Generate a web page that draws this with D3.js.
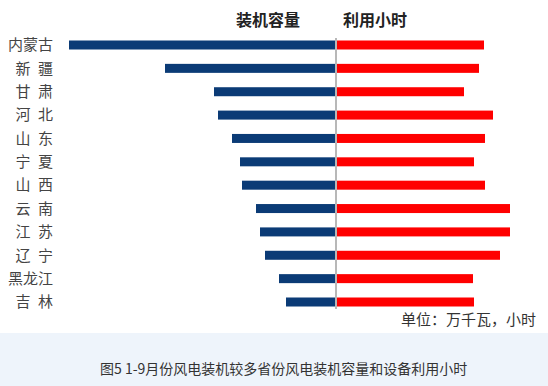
<!DOCTYPE html>
<html>
<head>
<meta charset="utf-8">
<script src="https://cdn.jsdelivr.net/npm/d3@7"></script>
<style>
  html, body { margin: 0; padding: 0; background: #fff; }
  svg { display: block; font-family: "Noto Sans CJK SC", sans-serif; }
</style>
</head>
<body>
<svg id="chart" width="548" height="386"></svg>
<script>
// provinces, top to bottom (two-char names padded with an en space)
const provinces = ["内蒙古", "新\u2002疆", "甘\u2002肃", "河\u2002北", "山\u2002东", "宁\u2002夏",
                   "山\u2002西", "云\u2002南", "江\u2002苏", "辽\u2002宁", "黑龙江", "吉\u2002林"];
// 装机容量, 万千瓦
const capacity = [2660, 1700, 1210, 1170, 1030, 950, 930, 790, 750, 700, 560, 490];
// 利用小时
const hours = [1470, 1420, 1270, 1560, 1480, 1370, 1480, 1730, 1730, 1630, 1360, 1370];

const headers = ["装机容量", "利用小时"];
const unitText = "单位：万千瓦，小时";
const caption = "图5 1-9月份风电装机较多省份风电装机容量和设备利用小时";

const svg = d3.select("#chart");
const W = 548, H = 386;
const mid = 336;

// caption band at the bottom
svg.append("rect")
    .attr("x", 0).attr("y", 333)
    .attr("width", W).attr("height", H - 333)
    .attr("fill", "#eef4fb");

svg.append("text")
    .attr("x", 100).attr("y", 369)
    .attr("dy", "0.35em")
    .attr("font-size", 14)
    .attr("fill", "#333")
    .text(caption);

const y = d3.scalePoint()
    .domain(provinces)
    .range([45, 302]);

const xCap = d3.scaleLinear().domain([0, 3000]).range([mid - 1, mid - 301]);
const xHrs = d3.scaleLinear().domain([0, 2000]).range([mid + 1, mid + 201]);

const barH = 9;

// capacity bars (left)
svg.append("g").selectAll("rect")
    .data(capacity)
    .join("rect")
    .attr("x", d => xCap(d))
    .attr("y", (d, i) => y(provinces[i]) - barH / 2)
    .attr("width", d => xCap(0) - xCap(d))
    .attr("height", barH)
    .attr("fill", "#0b3b76");

// hours bars (right)
svg.append("g").selectAll("rect")
    .data(hours)
    .join("rect")
    .attr("x", xHrs(0))
    .attr("y", (d, i) => y(provinces[i]) - barH / 2)
    .attr("width", d => xHrs(d) - xHrs(0))
    .attr("height", barH)
    .attr("fill", "#ff0000");

// centre axis line
svg.append("line")
    .attr("x1", mid).attr("x2", mid)
    .attr("y1", 38).attr("y2", 309)
    .attr("stroke", "#a0a0a0")
    .attr("stroke-width", 1.5);

// province labels
svg.append("g").selectAll("text")
    .data(provinces)
    .join("text")
    .attr("x", 53)
    .attr("y", d => y(d))
    .attr("dy", "0.35em")
    .attr("text-anchor", "end")
    .attr("font-size", 15)
    .attr("fill", "#444")
    .text(d => d);

// column headers
svg.append("text")
    .attr("x", 300).attr("y", 20)
    .attr("dy", "0.35em")
    .attr("text-anchor", "end")
    .attr("font-size", 16)
    .attr("font-weight", "bold")
    .attr("fill", "#222")
    .text(headers[0]);

svg.append("text")
    .attr("x", 343).attr("y", 20)
    .attr("dy", "0.35em")
    .attr("font-size", 16)
    .attr("font-weight", "bold")
    .attr("fill", "#222")
    .text(headers[1]);

// unit note
svg.append("text")
    .attr("x", 536).attr("y", 320)
    .attr("dy", "0.35em")
    .attr("text-anchor", "end")
    .attr("font-size", 15)
    .attr("fill", "#333")
    .text(unitText);
</script>
</body>
</html>
